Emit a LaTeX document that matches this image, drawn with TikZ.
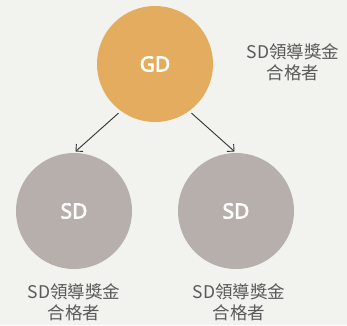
\documentclass[tikz,border=0pt]{standalone}
\usepackage{fontspec}
\setmainfont{Noto Sans}
\newfontfamily\rankfont[FakeBold=3]{Noto Sans}
\newfontfamily\cjk{Noto Sans CJK TC}
\usetikzlibrary{arrows.meta}
\definecolor{bg}{HTML}{F2F2EE}
\definecolor{gdorange}{HTML}{E3AC5E}
\definecolor{sdgray}{HTML}{B6AFAB}
\definecolor{labelgray}{HTML}{5A5A5A}
\definecolor{arrowgray}{HTML}{333333}
\tikzset{
  >={Straight Barb[length=5pt,width=10pt]},
}
\tikzstyle{rank}=[circle,minimum size=116pt,inner sep=0pt,text=white,font=\rankfont\fontsize{21}{21}\selectfont]
\tikzstyle{bonus}=[align=center,text=labelgray,font=\cjk\fontsize{17.5}{21}\selectfont]
\tikzstyle{link}=[->,arrowgray,line width=0.9pt,shorten <=3pt,shorten >=2pt]

\begin{document}
\begin{tikzpicture}[x=1pt,y=-1pt]
      \fill[bg] (0,0) rectangle (347,325);
      \node[rank,fill=gdorange] (gd) at (155,64) {GD};
      \node[rank,fill=sdgray] (sdl) at (74,211) {SD};
      \node[rank,fill=sdgray] (sdr) at (236,211) {SD};
      \node[bonus] (gdtxt) at (293,62.5) {SD領導獎金\\合格者};
      \node[bonus] (sdltxt) at (74,302.5) {SD領導獎金\\合格者};
      \node[bonus] (sdrtxt) at (239,302.5) {SD領導獎金\\合格者};
      \draw[link] (gd.-126) -- (sdl.north);
      \draw[link] (gd.-54) -- (sdr.north);
    \end{tikzpicture}
\end{document}
